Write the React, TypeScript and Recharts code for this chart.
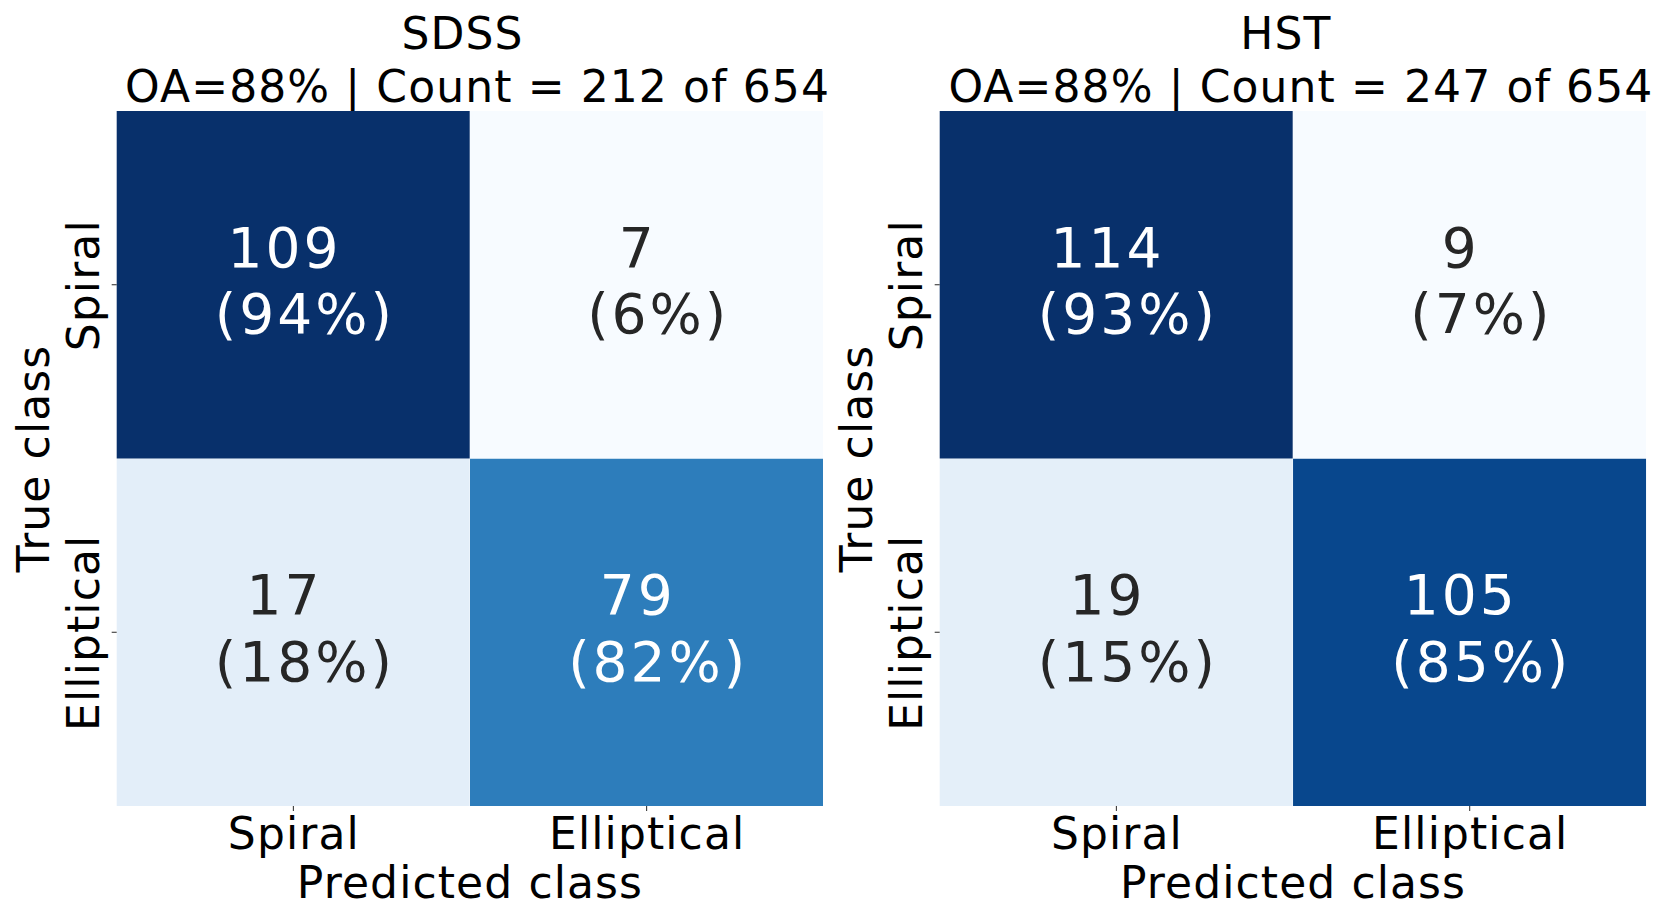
import React from 'react';
import { BarChart, Bar, XAxis, YAxis } from 'recharts';

const predictedClasses = ['Spiral', 'Elliptical'];
const trueClasses = ['Spiral', 'Elliptical'];

// rows = true class, columns = predicted class
const sdssCounts = [[109, 7], [17, 79]];
const sdssPercents = [[94, 6], [18, 82]];
const sdssSubtitle = 'OA=88% | Count = 212 of 654';

const hstCounts = [[114, 9], [19, 105]];
const hstPercents = [[93, 7], [15, 85]];
const hstSubtitle = 'OA=88% | Count = 247 of 654';

const FONT = '"DejaVu Sans", sans-serif';
const LABEL_SPACING = 1.1;

// matplotlib "Blues"
const BLUES = ['#f7fbff', '#deebf7', '#c6dbef', '#9ecae1', '#6baed6', '#4292c6', '#2171b5', '#08519c', '#08306b'];

const hexToRgb = (h: string) => [1, 3, 5].map((i) => parseInt(h.slice(i, i + 2), 16));

const blues = (t: number) => {
  const p = Math.max(0, Math.min(1, t)) * (BLUES.length - 1);
  const i = Math.min(Math.floor(p), BLUES.length - 2);
  const f = p - i;
  const a = hexToRgb(BLUES[i]);
  const b = hexToRgb(BLUES[i + 1]);
  return a.map((v, k) => Math.round(v + (b[k] - v) * f));
};

const lum = (rgb: number[]) => {
  const c = rgb.map((v) => {
    const s = v / 255;
    return s <= 0.03928 ? s / 12.92 : Math.pow((s + 0.055) / 1.055, 2.4);
  });
  return 0.2126 * c[0] + 0.7152 * c[1] + 0.0722 * c[2];
};

const Panel = ({ title, subtitle, counts, percents, left, width, rightMargin }: any) => {
  const flat = counts.flat();
  const vmin = Math.min(...flat);
  const vmax = Math.max(...flat);
  const data = predictedClasses.map((name, col) => ({ pred: name, col, r0: 1, r1: 1 }));
  const plotLeft = 116.7;
  const plotRight = width - rightMargin;
  const cx = (plotLeft + plotRight) / 2;

  const renderCell = (row: number) => (p: any) => {
    const col = p.payload ? p.payload.col : p.index;
    const count = counts[row][col];
    const rgb = blues((count - vmin) / (vmax - vmin));
    const textColor = lum(rgb) < 0.408 ? '#ffffff' : '#262626';
    const mx = p.x + p.width / 2 + 1.5;
    const my = p.y + p.height / 2;
    return (
      <g>
        <rect x={p.x} y={p.y} width={p.width} height={p.height} fill={`rgb(${rgb.join(',')})`} />
        <text
          textAnchor="middle"
          fontFamily={FONT}
          fontSize={55}
          letterSpacing={3}
          fill={textColor}
          xmlSpace="preserve"
          style={{ whiteSpace: 'pre' }}
        >
          <tspan x={mx} y={my - 18}>{`${count} `}</tspan>
          <tspan x={mx} y={my + 48.5}>{` (${percents[row][col]}%)`}</tspan>
        </text>
      </g>
    );
  };

  const XTick = ({ x, y, payload }: any) => (
    <text x={x + 0.5} y={y + 37.7} textAnchor="middle" fontFamily={FONT} fontSize={44} letterSpacing={LABEL_SPACING} fill="#000">
      {payload.value}
    </text>
  );

  const YTick = ({ x, y, payload }: any) => {
    const label = trueClasses[1 - Math.floor(payload.value)];
    const tx = x - 13;
    const ty = y + 0.5;
    return (
      <text x={tx} y={ty} transform={`rotate(-90, ${tx}, ${ty})`} textAnchor="middle" fontFamily={FONT} fontSize={44} letterSpacing={LABEL_SPACING} fill="#000">
        {label}
      </text>
    );
  };

  return (
    <div style={{ position: 'absolute', left, top: 0, width, height: 923 }}>
      <div
        style={{
          position: 'absolute',
          left: cx - 450,
          width: 900,
          top: 8.4,
          textAlign: 'center',
          fontFamily: FONT,
          fontSize: 44,
          letterSpacing: LABEL_SPACING,
          lineHeight: '52.8px',
          color: '#000',
          whiteSpace: 'pre',
        }}
      >
        {`${title} \n ${subtitle}`}
      </div>
      <BarChart
        width={width}
        height={923}
        data={data}
        margin={{ top: 111, right: rightMargin, bottom: 0, left: 0 }}
        barCategoryGap={0}
        barGap={0}
        style={{ position: 'absolute', left: 0, top: 0 }}
      >
        <XAxis
          dataKey="pred"
          type="category"
          height={117}
          axisLine={false}
          tickSize={5}
          tickMargin={0}
          tickLine={{ stroke: '#262626', strokeWidth: 1 }}
          tick={<XTick />}
          interval={0}
          label={{
            content: ({ viewBox }: any) => (
              <text x={viewBox.x + viewBox.width / 2} y={viewBox.y + 92} textAnchor="middle" fontFamily={FONT} fontSize={44} letterSpacing={LABEL_SPACING} fill="#000">
                Predicted class
              </text>
            ),
          }}
        />
        <YAxis
          type="number"
          domain={[0, 2]}
          ticks={[0.5, 1.5]}
          width={plotLeft}
          axisLine={false}
          tickSize={5}
          tickMargin={0}
          tickLine={{ stroke: '#262626', strokeWidth: 1 }}
          tick={<YTick />}
          interval={0}
          label={{
            content: ({ viewBox }: any) => {
              const ty = viewBox.y + viewBox.height / 2;
              return (
                <text x={49} y={ty} transform={`rotate(-90, 49, ${ty})`} textAnchor="middle" fontFamily={FONT} fontSize={44} letterSpacing={LABEL_SPACING} fill="#000">
                  True class
                </text>
              );
            },
          }}
        />
        <Bar dataKey="r1" stackId="m" isAnimationActive={false} shape={renderCell(1)} />
        <Bar dataKey="r0" stackId="m" isAnimationActive={false} shape={renderCell(0)} />
      </BarChart>
    </div>
  );
};

export default function App() {
  return (
    <div style={{ position: 'absolute', left: 0, top: 0, width: 1661, height: 923, background: '#fff', overflow: 'hidden' }}>
      <Panel title="SDSS" subtitle={sdssSubtitle} counts={sdssCounts} percents={sdssPercents} left={0} width={830} rightMargin={6.7} />
      <Panel title="HST" subtitle={hstSubtitle} counts={hstCounts} percents={hstPercents} left={823.3} width={837.7} rightMargin={14.3} />
    </div>
  );
}
